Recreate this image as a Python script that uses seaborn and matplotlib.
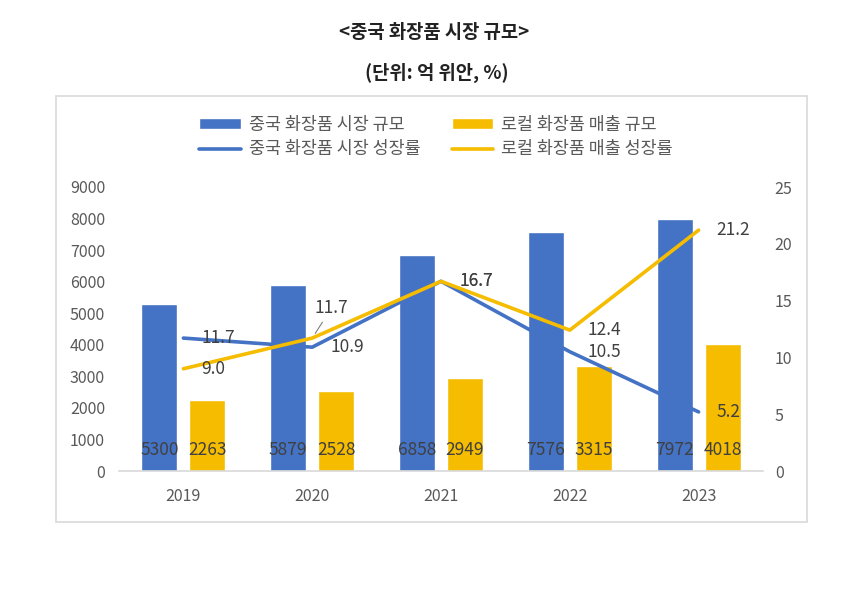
import numpy as np
import pandas as pd
import matplotlib
matplotlib.use("Agg")
import matplotlib.pyplot as plt
from matplotlib.patches import Rectangle
import seaborn as sns

years = ["2019", "2020", "2021", "2022", "2023"]
market_size = [5300, 5879, 6858, 7576, 7972]   # 중국 화장품 시장 규모
local_sales = [2263, 2528, 2949, 3315, 4018]    # 로컬 화장품 매출 규모
market_growth = [11.7, 10.9, 16.7, 10.5, 5.2]   # 시장 성장률
local_growth = [9.0, 11.7, 16.7, 12.4, 21.2]    # 매출 성장률

bar_names = ["중국 화장품 시장 규모", "로컬 화장품 매출 규모"]
line_names = ["중국 화장품 시장 성장률", "로컬 화장품 매출 성장률"]
title = "<중국 화장품 시장 규모>"
subtitle = "(단위: 억 위안, %)"

BLUE = "#4472C4"
GOLD = "#F5BC00"
GREY = "#595959"
DARK = "#404040"

sns.set_theme(style="white")
plt.rcParams['font.family'] = ['Noto Sans CJK KR', 'DejaVu Sans']

n = len(years)
bars = pd.DataFrame({
    "year": years * 2,
    "value": market_size + local_sales,
    "series": [bar_names[0]] * n + [bar_names[1]] * n,
})
lines = pd.DataFrame({
    "pos": list(range(n)) * 2,
    "rate": market_growth + local_growth,
    "series": [line_names[0]] * n + [line_names[1]] * n,
})

W, H = 858, 589
fig = plt.figure(figsize=(W / 100, H / 100), dpi=100)
ax = fig.add_axes([119 / W, 1 - 471 / H, (763 - 119) / W, (471 - 187) / H])

sns.barplot(data=bars, x="year", y="value", hue="series", palette=[BLUE, GOLD],
            width=0.745, gap=0.25, saturation=1, errorbar=None, legend=False, ax=ax)
ax.set_ylim(0, 9000)
ax.set_yticks(range(0, 9001, 1000))

# value labels at the foot of each bar
for cont, vals in zip(ax.containers, [market_size, local_sales]):
    for p, v in zip(cont.patches, vals):
        ax.text(p.get_x() + p.get_width() / 2, 680, str(v), ha='center', va='center',
                fontsize=12.5, color=DARK, zorder=5)

ax2 = ax.twinx()
sns.lineplot(data=lines, x="pos", y="rate", hue="series", palette=[BLUE, GOLD],
             linewidth=2.6, legend=False, ax=ax2)
ax2.set_ylim(0, 25)
ax2.set_yticks(range(0, 26, 5))
ax.set_xlim(-0.5, n - 0.5)

# growth labels (offsets in points)
offs_blue = [(13, 0)] * n
offs_gold = [(13, 0), (2, 22), (13, 0), (13, 0), (13, 0)]
for vals, offs in [(market_growth, offs_blue), (local_growth, offs_gold)]:
    for i, (v, o) in enumerate(zip(vals, offs)):
        arrow = None
        if o[1] != 0:
            arrow = dict(arrowstyle='-', color='#7F7F7F', lw=0.8, shrinkA=2, shrinkB=4)
        ax2.annotate(f"{v:.1f}", (i, v), xytext=o, textcoords='offset points',
                     ha='left', va='center', fontsize=12.5, color=DARK,
                     arrowprops=arrow, zorder=6)

for a in (ax, ax2):
    a.set_xlabel('')
    a.set_ylabel('')
    for s in a.spines.values():
        s.set_visible(False)
ax.spines['bottom'].set_visible(True)
ax.spines['bottom'].set_color('#D9D9D9')
ax.spines['bottom'].set_linewidth(1.2)

ax.tick_params(axis='x', length=0, labelsize=11.5, labelcolor=GREY, pad=12)
ax.tick_params(axis='y', length=0, labelsize=11.5, labelcolor=GREY, pad=10)
ax2.tick_params(axis='y', length=0, labelsize=11.5, labelcolor=GREY, pad=8.5)

handles = [ax.containers[0], ax2.lines[0], ax.containers[1], ax2.lines[1]]
labels = [bar_names[0], line_names[0], bar_names[1], line_names[1]]
fig.legend(handles=handles, labels=labels, ncol=2, loc='center',
           bbox_to_anchor=(436 / W, 1 - 137 / H), frameon=False, fontsize=12.5,
           labelcolor=GREY, handlelength=2.4, handleheight=0.6, handletextpad=0.45,
           columnspacing=1.8, labelspacing=0.4)

fig.text(434 / W, 1 - 33 / H, title, ha='center', va='center', fontsize=13.5,
         fontweight='bold', color='#222222')
fig.text(437 / W, 1 - 73 / H, subtitle, ha='center', va='center', fontsize=13.5,
         fontweight='bold', color='#222222')

fig.add_artist(Rectangle((56 / W, 1 - 522 / H), (807 - 56) / W, (522 - 96) / H,
                         transform=fig.transFigure, fill=False, edgecolor='#D9D9D9', lw=1.2))

fig.savefig('out.png', dpi=100)
